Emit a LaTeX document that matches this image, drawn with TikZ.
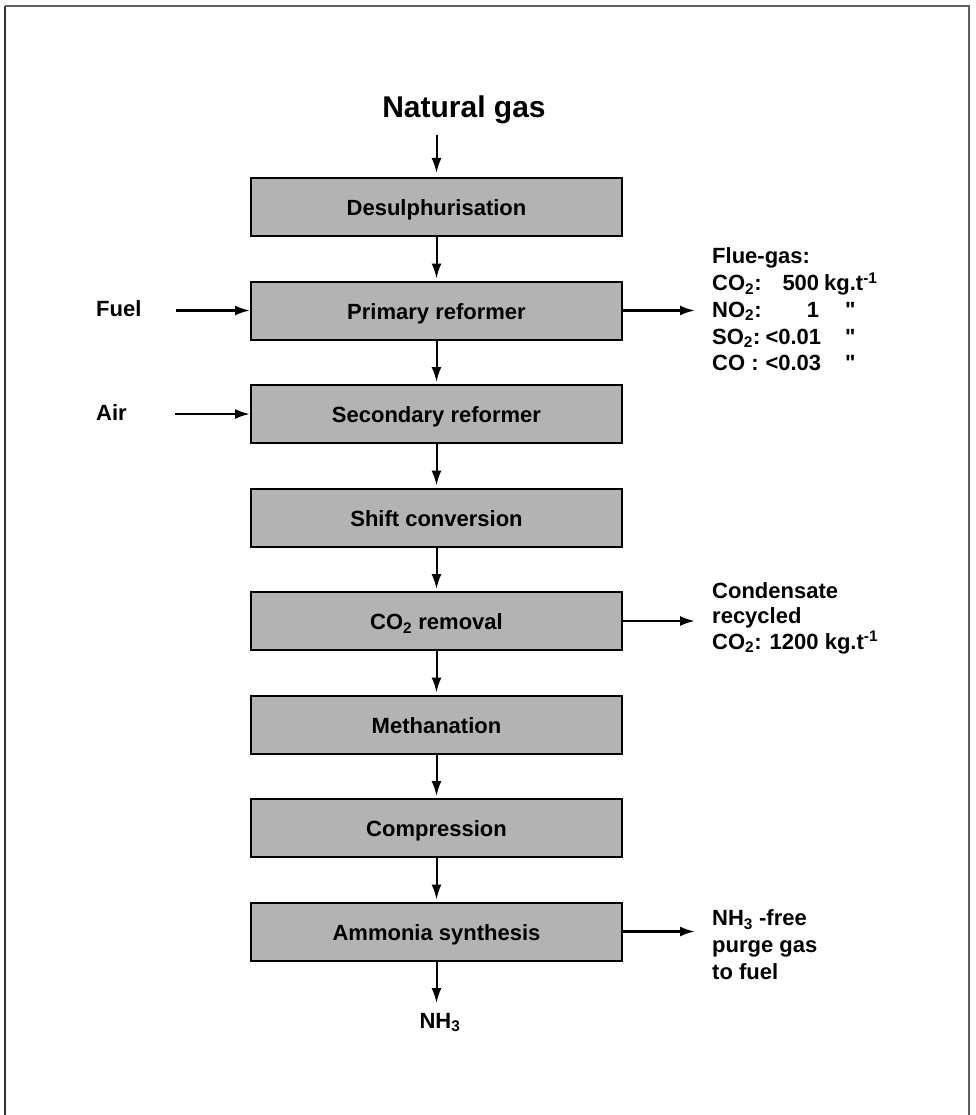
\documentclass[tikz,border=0pt]{standalone}
\usepackage{fontspec}
\setmainfont{Liberation Sans}
\usetikzlibrary{arrows.meta}
\definecolor{boxgray}{RGB}{179,179,179}
\definecolor{framegray}{RGB}{96,96,96}
\begin{document}
\begin{tikzpicture}[x=1pt,y=-1pt,
  proc/.style={draw=black, line width=2pt, fill=boxgray, minimum width=371pt, minimum height=58pt, inner sep=0pt, text height=20pt, text depth=2.6pt, font=\bfseries\fontsize{22}{26}\selectfont},
  flow/.style={line width=2pt, -{Latex[length=15pt,width=10pt]}, shorten >=2pt},
  side/.style={line width=2.4pt, -{Latex[length=15pt,width=10pt]}},
  lbl/.style={font=\bfseries\fontsize{22}{26.7}\selectfont, align=left, inner sep=0pt, anchor=west}]
\useasboundingbox (0,0) rectangle (975,1115);
% frame
\draw[line width=2.2pt, color=black!80] (5,1116) -- (5,6);
\draw[line width=2.2pt, color=framegray] (5,6) -- (969,6) -- (969,1116);
% process boxes
\node[proc] (d)  at (436.5,207)   {Desulphurisation};
\node[proc] (p)  at (436.5,310.5) {Primary reformer};
\node[proc] (s)  at (436.5,414)   {Secondary reformer};
\node[proc] (sh) at (436.5,517.5) {Shift conversion};
\node[proc] (co) at (436.5,621)   {CO\textsubscript{2} removal};
\node[proc] (m)  at (436.5,724.5) {Methanation};
\node[proc] (c)  at (436.5,828)   {Compression};
\node[proc] (a)  at (436.5,931.5) {Ammonia synthesis};
% top input
\node[font=\bfseries\fontsize{30}{36}\selectfont, inner sep=0pt, anchor=base] (ng) at (464,118) {Natural gas};
\coordinate (ngs) at (436.5,135);
\draw[flow, shorten >=4pt] (ngs) -- (d.north);
% main flow
\draw[flow] (d.south) -- (p.north);
\draw[flow] (p.south) -- (s.north);
\draw[flow] (s.south) -- (sh.north);
\draw[flow] (sh.south) -- (co.north);
\draw[flow] (co.south) -- (m.north);
\draw[flow] (m.south) -- (c.north);
\draw[flow] (c.south) -- (a.north);
% product
\coordinate (nhe) at (436.5,1003);
\draw[flow, shorten >=0pt] (a.south) -- (nhe);
\node[lbl, anchor=base] (nh3) at (440,1028) {NH\textsubscript{3}};
% left inputs
\node[lbl, anchor=base west] (fuel) at (96,316) {Fuel};
\node[lbl, anchor=base west] (air)  at (96,420) {Air};
\draw[side, shorten <=34pt] (fuel.east |- p.west) -- (p.west);
\draw[side, shorten <=48pt] (air.east |- s.west) -- (s.west);
% right outputs
\node[lbl] (flue) at (712,309.5) {Flue-gas:\\
\makebox[50pt][l]{CO\textsubscript{2}:}\makebox[57pt][r]{500}\hspace{5pt}kg.t\textsuperscript{-1}\\
\makebox[50pt][l]{NO\textsubscript{2}:}\makebox[57pt][r]{1}\hspace{26pt}\textquotedbl\\
\makebox[50pt][l]{SO\textsubscript{2}:}\makebox[59pt][r]{<0.01}\hspace{24pt}\textquotedbl\\
\makebox[50pt][l]{CO :}\makebox[59pt][r]{<0.03}\hspace{24pt}\textquotedbl};
\draw[side, shorten >=17pt] (p.east) -- (p.east -| flue.west);
\node[lbl, font=\bfseries\fontsize{22}{25.5}\selectfont] (cond) at (712,618) {Condensate\\recycled\\CO\textsubscript{2}: 1200 kg.t\textsuperscript{-1}};
\draw[side, shorten >=17pt] (co.east) -- (co.east -| cond.west);
\node[lbl, font=\bfseries\fontsize{22}{27}\selectfont] (purge) at (712,945) {NH\textsubscript{3} -free\\purge gas\\to fuel};
\draw[side, shorten >=17pt] (a.east) -- (a.east -| purge.west);
\end{tikzpicture}
\end{document}
